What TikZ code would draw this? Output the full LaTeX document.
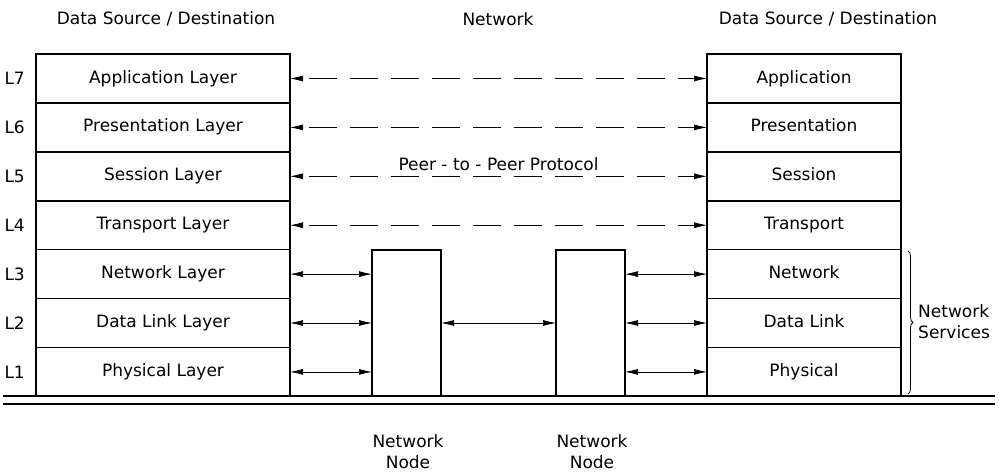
\documentclass[tikz,border=0pt]{standalone}
\usepackage{fontspec}
\setmainfont{DejaVu Sans}
\usetikzlibrary{arrows.meta,positioning,decorations.pathreplacing}

\begin{document}
\begin{tikzpicture}[
  x=1pt, y=-1pt,
  txt/.style={font=\fontsize{17}{21}\selectfont, inner sep=0pt},
  layer/.style={draw, line width=1.5pt, minimum height=48.9pt, minimum width=254pt,
                inner sep=0pt, outer sep=0pt, text height=12.5pt, text depth=3.5pt, txt},
  rlayer/.style={layer, minimum width=194pt},
  relay/.style={draw, line width=1.5pt, minimum width=69pt, minimum height=146pt, outer sep=0pt},
  peer/.style={{Latex[length=13pt,width=6pt]}-{Latex[length=13pt,width=6pt]},
               line width=0.7pt, dash pattern=on 28pt off 13pt, dash phase=-6pt},
  link/.style={{Latex[length=13pt,width=6pt]}-{Latex[length=13pt,width=6pt]}, line width=0.7pt},
  ground/.style={line width=1.5pt}
]
\useasboundingbox (0,0) rectangle (1001,474);

% Headers
\node[txt] (hleft)  at (166,19) {Data Source / Destination};
\node[txt] (hnet)   at (498,19) {Network};
\node[txt] (hright) at (828,19) {Data Source / Destination};

% Left stack
\node[layer] (l7) at (163,78.5) {Application Layer};
\node[layer, below=0pt of l7] (l6) {Presentation Layer};
\node[layer, below=0pt of l6] (l5) {Session Layer};
\node[layer, below=0pt of l5] (l4) {Transport Layer};
\node[layer, below=0pt of l4] (l3) {Network Layer};
\node[layer, below=0pt of l3] (l2) {Data Link Layer};
\node[layer, below=0pt of l2] (l1) {Physical Layer};

% Layer numbers
\node[txt, left=11pt of l7] (n7) {L7};
\node[txt, left=11pt of l6] (n6) {L6};
\node[txt, left=11pt of l5] (n5) {L5};
\node[txt, left=11pt of l4] (n4) {L4};
\node[txt, left=11pt of l3] (n3) {L3};
\node[txt, left=11pt of l2] (n2) {L2};
\node[txt, left=11pt of l1] (n1) {L1};

% Right stack
\node[rlayer] (r7) at (804,78.5) {Application};
\node[rlayer, below=0pt of r7] (r6) {Presentation};
\node[rlayer, below=0pt of r6] (r5) {Session};
\node[rlayer, below=0pt of r5] (r4) {Transport};
\node[rlayer, below=0pt of r4] (r3) {Network};
\node[rlayer, below=0pt of r3] (r2) {Data Link};
\node[rlayer, below=0pt of r2] (r1) {Physical};

% Network nodes
\node[relay] (nd1) at (406.5,323) {};
\node[relay] (nd2) at (590.5,323) {};
\node[txt, align=center] (nd1txt) at (408,452) {Network\\Node};
\node[txt, align=center] (nd2txt) at (592,452) {Network\\Node};

% Peer-to-peer
\draw[peer] (l7) -- (r7);
\draw[peer] (l6) -- (r6);
\draw[peer] (l5) -- node[txt, above=5pt] {Peer - to - Peer Protocol} (r5);
\draw[peer] (l4) -- (r4);

% Links to nodes
\draw[link] (l3.east) -- (l3.east -| nd1.west);
\draw[link] (l2.east) -- (l2.east -| nd1.west);
\draw[link] (l1.east) -- (l1.east -| nd1.west);
\draw[link] (nd1.east |- l2.east) -- (nd2.west |- l2.east);
\draw[link] (r3.west -| nd2.east) -- (r3.west);
\draw[link] (r2.west -| nd2.east) -- (r2.west);
\draw[link] (r1.west -| nd2.east) -- (r1.west);

% Network services
\coordinate (bt) at (908,251);
\coordinate (bb) at (908,394);
\draw[line width=0.8pt, decorate, decoration={brace, amplitude=5pt}] (bt) -- (bb);
\node[txt, align=left, anchor=west] (svc) at (918,322) {Network\\Services};

% Medium
\coordinate (g1a) at (3,396);   \coordinate (g1b) at (995,396);
\coordinate (g2a) at (3,404);   \coordinate (g2b) at (995,404);
\draw[ground] (g1a) -- (g1b);
\draw[ground] (g2a) -- (g2b);
\end{tikzpicture}
\end{document}
